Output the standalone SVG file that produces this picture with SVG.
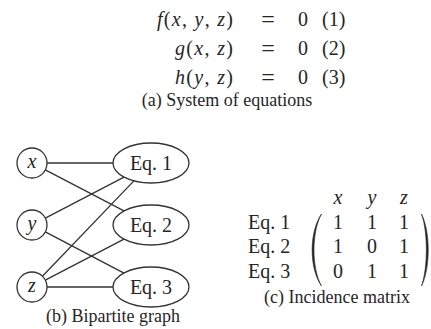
<svg xmlns="http://www.w3.org/2000/svg" width="431" height="329" viewBox="0 0 431 329">
<style>
text{font-family:"Liberation Serif","Times New Roman",serif;fill:#262626}
.m{font-size:20px}
.i{font-style:italic}
.cap{font-size:18px}
.node{fill:#fff;stroke:#333;stroke-width:1.3}
.edge{stroke:#333;stroke-width:1.3;fill:none}
.c{text-anchor:middle}
.eq{font-size:24px}
.br{fill:#262626;stroke:#262626;stroke-width:0.6}
</style>
<rect width="431" height="329" fill="#fff"/>
<g id="equations" class="m">
<text x="157" y="26" textLength="76" lengthAdjust="spacing"><tspan class="i">f</tspan>(<tspan class="i">x</tspan>, <tspan class="i">y</tspan>, <tspan class="i">z</tspan>)</text>
<text x="268" y="27" class="c eq">=</text><text x="303" y="26" class="c">0</text><text x="322" y="26">(1)</text>
<text x="175" y="55" textLength="58" lengthAdjust="spacing"><tspan class="i">g</tspan>(<tspan class="i">x</tspan>, <tspan class="i">z</tspan>)</text>
<text x="268" y="56" class="c eq">=</text><text x="303" y="55" class="c">0</text><text x="322" y="55">(2)</text>
<text x="175" y="84" textLength="58" lengthAdjust="spacing"><tspan class="i">h</tspan>(<tspan class="i">y</tspan>, <tspan class="i">z</tspan>)</text>
<text x="268" y="85" class="c eq">=</text><text x="303" y="84" class="c">0</text><text x="322" y="84">(3)</text>
</g>
<text class="cap c" x="227" y="106">(a) System of equations</text>
<g id="connectors">
<line class="edge" x1="47" y1="163" x2="113" y2="163"/>
<line class="edge" x1="45.3" y1="169.9" x2="124" y2="210.9"/>
<line class="edge" x1="45.3" y1="218.1" x2="124" y2="177.1"/>
<line class="edge" x1="45.3" y1="231.9" x2="124" y2="273.1"/>
<line class="edge" x1="42.4" y1="276.2" x2="133.9" y2="180.9"/>
<line class="edge" x1="45.3" y1="280.1" x2="124" y2="239.1"/>
<line class="edge" x1="47" y1="287" x2="113" y2="287"/>
</g>
<g id="node-x"><circle class="node" cx="32" cy="163" r="15"/><text class="m i c" x="32" y="168">x</text></g>
<g id="node-y"><circle class="node" cx="32" cy="225" r="15"/><text class="m i c" x="32" y="230">y</text></g>
<g id="node-z"><circle class="node" cx="32" cy="287" r="15"/><text class="m i c" x="32" y="292">z</text></g>
<g id="node-eq1"><ellipse class="node" cx="151" cy="163" rx="38" ry="20"/><text class="m c" x="151" y="170">Eq. 1</text></g>
<g id="node-eq2"><ellipse class="node" cx="151" cy="225" rx="38" ry="20"/><text class="m c" x="151" y="232">Eq. 2</text></g>
<g id="node-eq3"><ellipse class="node" cx="151" cy="287" rx="38" ry="20"/><text class="m c" x="151" y="294">Eq. 3</text></g>
<text class="cap c" x="113" y="322">(b) Bipartite graph</text>
<g id="matrix" class="m">
<text class="i c" x="338" y="204">x</text><text class="i c" x="372" y="204">y</text><text class="i c" x="404" y="204">z</text>
<text x="248" y="229">Eq. 1</text><text class="c" x="338" y="229">1</text><text class="c" x="372" y="229">1</text><text class="c" x="404" y="229">1</text>
<text x="248" y="253">Eq. 2</text><text class="c" x="338" y="253">1</text><text class="c" x="372" y="253">0</text><text class="c" x="404" y="253">1</text>
<text x="248" y="278">Eq. 3</text><text class="c" x="338" y="278">0</text><text class="c" x="372" y="278">1</text><text class="c" x="404" y="278">1</text>
<path class="br" d="M321.5,214 C309,232 309,268 321.5,286 C311.5,268 311.5,232 321.5,214 Z"/>
<path class="br" d="M421.5,214 C430.5,232 430.5,268 421.5,286 C428,268 428,232 421.5,214 Z"/>
</g>
<text class="cap c" x="337" y="303">(c) Incidence matrix</text>
</svg>
